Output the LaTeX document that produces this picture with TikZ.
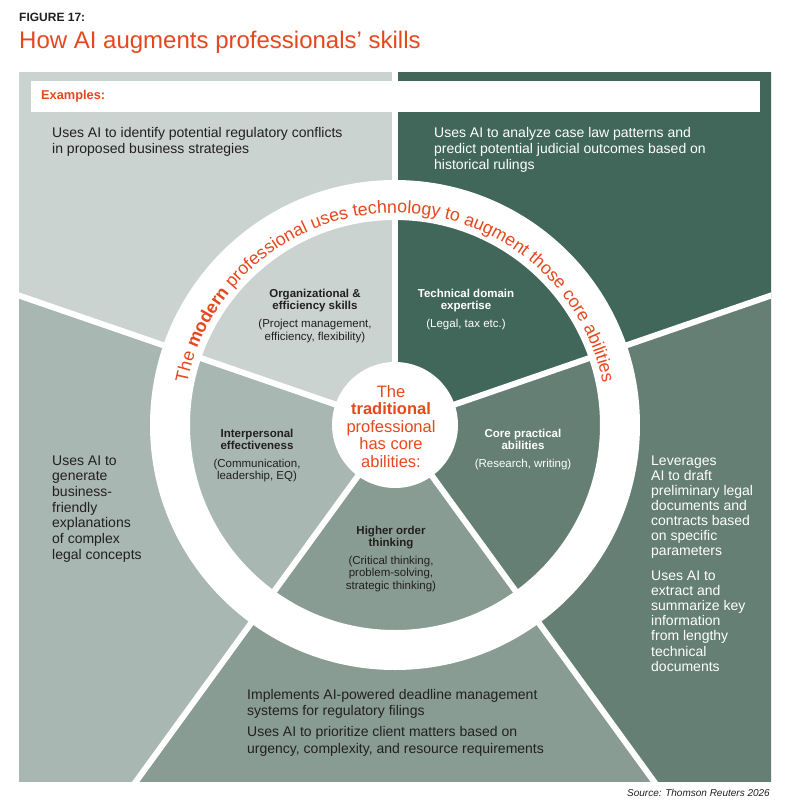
\documentclass[tikz,border=0pt]{standalone}
\usepackage{fontspec}
\setmainfont{Liberation Sans}
\usetikzlibrary{calc,decorations.text}
\definecolor{orng}{RGB}{230,72,30}
\definecolor{cTL}{RGB}{202,211,207}
\definecolor{cTR}{RGB}{65,102,90}
\definecolor{cL}{RGB}{168,183,177}
\definecolor{cB}{RGB}{136,156,148}
\definecolor{cR}{RGB}{101,127,116}
\definecolor{ink}{RGB}{35,31,32}
\newcommand\fs[2]{\fontsize{#1}{#2}\selectfont}
\newcommand\ringfont{\fs{17.8}{20}\color{orng}}
\begin{document}
\begin{tikzpicture}[x=1pt,y=1pt,
  body/.style={inner sep=0pt, anchor=north west, align=left, text=ink},
  lab/.style={inner sep=0pt, anchor=north, align=center, font=\fs{11.5}{12.8}, text=ink},
  divider/.style={white, line width=6pt},
]
\useasboundingbox (0,0) rectangle (785,-807);
\fill[white] (0,0) rectangle (785,-807);
\coordinate (C) at (395,-425);
\coordinate (P1) at (19,-72);
\coordinate (P2) at (771,-781);
\begin{scope}
  \clip (P1) rectangle (P2);
  \fill[cTL] (C) -- +(90:1000) -- +(161:1000) -- cycle;
  \fill[cL]  (C) -- +(161:1000) -- +(234:1000) -- cycle;
  \fill[cB]  (C) -- +(234:1000) -- +(306:1000) -- cycle;
  \fill[cR]  (C) -- +(306:1000) -- +(379:1000) -- cycle;
  \fill[cTR] (C) -- +(19:1000) -- +(90:1000) -- cycle;
  \foreach \a in {90,161,234,306,19} \draw[divider] (C) -- +(\a:1000);
\end{scope}
\draw[white, line width=40pt] (C) circle[radius=225];
\fill[white] (C) circle[radius=63];

\path[decorate, decoration={text along path, text align=center,
  text={|\ringfont|The |\ringfont\bfseries|modern|\ringfont| professional uses technology to augment those core abilities}}]
  ($(C)+(169:212)$) arc[start angle=169, end angle=11, radius=212];

% header
\node[inner sep=0pt, anchor=base west, font=\fs{12}{14}\bfseries, text=ink] (fig) at (19,-21) {FIGURE 17:};
\node[inner sep=0pt, anchor=base west, font=\fs{24}{28}, text=orng] (title) at (19,-48) {How AI augments professionals’ skills};
\fill[white] (31,-81) rectangle (760,-112);
\node[inner sep=0pt, anchor=base west, font=\fs{12.8}{14}\bfseries, text=orng] (ex) at (41,-99.5) {Examples:};

% outer examples
\node[body, font=\fs{14}{16}] (tl) at (52,-127.3) {Uses AI to identify potential regulatory conflicts\\in proposed business strategies};
\node[body, font=\fs{14}{16}, text=white] (tr) at (434,-127.3) {Uses AI to analyze case law patterns and\\predict potential judicial outcomes based on\\historical rulings};
\node[body, font=\fs{14}{15.7}] (lt) at (52,-455.3) {Uses AI to\\generate\\business-\\friendly\\explanations\\of complex\\legal concepts};
\node[body, font=\fs{14}{15}, text=white] (r1) at (651,-455.3) {Leverages\\AI to draft\\preliminary legal\\documents and\\contracts based\\on specific\\parameters};
\node[body, font=\fs{14}{15.2}, text=white] (r2) at (651,-570.3) {Uses AI to\\extract and\\summarize key\\information\\from lengthy\\technical\\documents};
\node[body, font=\fs{14}{16.5}] (b1) at (247,-689) {Implements AI-powered deadline management\\systems for regulatory filings};
\node[body, font=\fs{14}{16.5}] (b2) at (247,-726.5) {Uses AI to prioritize client matters based on\\urgency, complexity, and resource requirements};

% inner labels
\node[lab] (org) at (315,-288.6) {\textbf{Organizational \&}\\\textbf{efficiency skills}\\[4.9pt](Project management,\\efficiency, flexibility)};
\node[lab, text=white] (tech) at (466,-288.6) {\textbf{Technical domain}\\\textbf{expertise}\\[4.9pt](Legal, tax etc.)};
\node[lab] (inter) at (257,-428.6) {\textbf{Interpersonal}\\\textbf{effectiveness}\\[4.4pt](Communication,\\leadership, EQ)};
\node[lab, text=white] (core) at (523,-428.6) {\textbf{Core practical}\\\textbf{abilities}\\[4.4pt](Research, writing)};
\node[lab] (high) at (391,-525.6) {\textbf{Higher order}\\\textbf{thinking}\\[4.4pt](Critical thinking,\\problem-solving,\\strategic thinking)};

% center
\node[inner sep=0pt, anchor=north, align=center, font=\fs{16.5}{17.5}, text=orng] (ctr) at (391,-385.2) {The\\\textbf{traditional}\\professional\\has core\\abilities:};

\node[inner sep=0pt, anchor=base east, font=\fs{10}{12}\itshape, text=ink] (src) at (770,-796.5) {Source: Thomson Reuters 2026};
\end{tikzpicture}
\end{document}
